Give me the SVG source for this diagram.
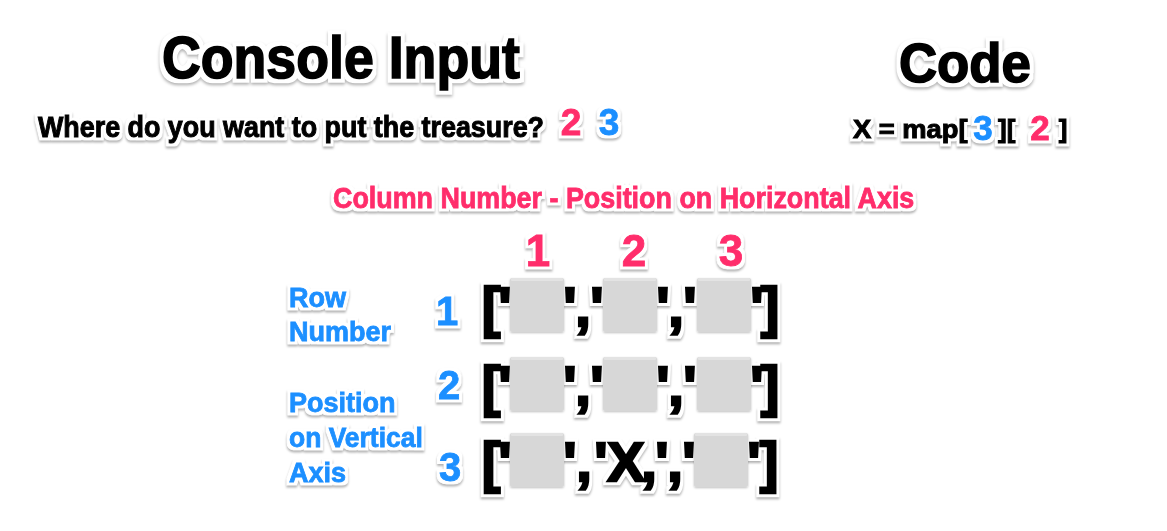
<svg xmlns="http://www.w3.org/2000/svg" width="1167" height="531" viewBox="0 0 1167 531">
  <style>
    text { font-family: "Liberation Sans", Arial, sans-serif; font-weight: bold; }
    .k { fill: #000; stroke: #000; stroke-width: 1; }
    .p { fill: #FF2D6B; stroke: #FF2D6B; stroke-width: 0.8; }
    .b { fill: #1C8FFF; stroke: #1C8FFF; stroke-width: 0.8; }
    .big { stroke-width: 1.6; }
    .br { stroke-width: 2.4; font-size: 56px; }
    .m { text-anchor: middle; }
    .box { fill: #D7D7D7; }
    .boxtop { fill: #E3E3E3; }
  </style>
  <defs>
    <filter id="st" filterUnits="userSpaceOnUse" x="0" y="0" width="1167" height="531" color-interpolation-filters="sRGB">
      <feMorphology in="SourceAlpha" operator="dilate" radius="3" result="o"/>
      <feFlood flood-color="#ffffff" result="w"/>
      <feComposite in="w" in2="o" operator="in" result="outline"/>
      <feGaussianBlur in="o" stdDeviation="1.2" result="bl"/>
      <feOffset in="bl" dx="0" dy="1.5" result="ob"/>
      <feFlood flood-color="#000" flood-opacity="0.3"/>
      <feComposite in2="ob" operator="in" result="shadow"/>
      <feMerge><feMergeNode in="shadow"/><feMergeNode in="outline"/><feMergeNode in="SourceGraphic"/></feMerge>
    </filter>
    <filter id="stbig" filterUnits="userSpaceOnUse" x="0" y="0" width="1167" height="531" color-interpolation-filters="sRGB">
      <feMorphology in="SourceAlpha" operator="dilate" radius="4" result="o"/>
      <feFlood flood-color="#ffffff" result="w"/>
      <feComposite in="w" in2="o" operator="in" result="outline"/>
      <feGaussianBlur in="o" stdDeviation="1.5" result="bl"/>
      <feOffset in="bl" dx="0" dy="2" result="ob"/>
      <feFlood flood-color="#000" flood-opacity="0.3"/>
      <feComposite in2="ob" operator="in" result="shadow"/>
      <feMerge><feMergeNode in="shadow"/><feMergeNode in="outline"/><feMergeNode in="SourceGraphic"/></feMerge>
    </filter>
    <filter id="bs" x="-20%" y="-20%" width="140%" height="140%">
      <feDropShadow dx="0" dy="1" stdDeviation="1" flood-color="#000" flood-opacity="0.25"/>
    </filter>
    <g id="cell">
      <rect class="box" x="0" y="0" width="54" height="54" rx="2"/>
      <rect class="boxtop" x="1" y="0" width="52" height="3" rx="1"/>
    </g>
  </defs>
  <rect width="1167" height="531" fill="#fff"/>

  <g id="title-console" filter="url(#stbig)">
    <text class="k big" transform="translate(162,78) scale(0.895,1)" font-size="60">Console Input</text>
  </g>
  <g id="title-code" filter="url(#stbig)">
    <text class="k big" transform="translate(899,82) scale(0.943,1)" font-size="56">Code</text>
  </g>

  <g id="prompt" filter="url(#st)">
    <text class="k" transform="translate(38,137) scale(0.896,1)" font-size="30">Where do you want to put the treasure?</text>
    <text class="p m" x="571" y="135" font-size="37">2</text>
    <text class="b m" x="609" y="135" font-size="37">3</text>
  </g>

  <g id="code-line" filter="url(#st)">
    <text class="k" transform="translate(853,138) scale(1.05,1)" font-size="26">X = map[</text>
    <text class="b m" x="983" y="140" font-size="35">3</text>
    <text class="k" x="998" y="138" font-size="26">][</text>
    <text class="p m" x="1040" y="140" font-size="35">2</text>
    <text class="k m" x="1063" y="138" font-size="26">]</text>
  </g>

  <g id="column-header" filter="url(#st)">
    <text class="p" transform="translate(333,208) scale(0.927,1)" font-size="29">Column Number - Position on Horizontal Axis</text>
  </g>

  <g id="column-numbers" filter="url(#st)">
    <text class="p m" x="538" y="266" font-size="44">1</text>
    <text class="p m" x="634" y="266" font-size="44">2</text>
    <text class="p m" x="731" y="266" font-size="44">3</text>
  </g>

  <g id="row-label" filter="url(#st)">
    <text class="b" x="289" y="307" font-size="27">Row</text>
    <text class="b" x="289" y="341" font-size="27">Number</text>
    <text class="b" x="289" y="412" font-size="27">Position</text>
    <text class="b" transform="translate(289,447) scale(0.98,1)" font-size="27">on Vertical</text>
    <text class="b" x="289" y="482" font-size="27">Axis</text>
  </g>

  <g id="row-numbers" filter="url(#st)">
    <text class="b m" x="447" y="325" font-size="40">1</text>
    <text class="b m" x="449" y="399" font-size="40">2</text>
    <text class="b m" x="450" y="481" font-size="40">3</text>
  </g>

  <g id="row1">
    <g filter="url(#st)">
      <text class="k m br" y="326" x="491 505 570 583 597 663 676 690 757 770">['','','']</text>
    </g>
    <g filter="url(#bs)">
      <use href="#cell" x="510" y="278"/>
      <use href="#cell" x="603" y="278"/>
      <use href="#cell" x="697" y="278"/>
    </g>
  </g>

  <g id="row2">
    <g filter="url(#st)">
      <text class="k m br" y="405" x="491 505 570 583 597 663 676 690 757 770">['','','']</text>
    </g>
    <g filter="url(#bs)">
      <use href="#cell" x="510" y="357"/>
      <use href="#cell" x="603" y="357"/>
      <use href="#cell" x="697" y="357"/>
    </g>
  </g>

  <g id="row3">
    <g filter="url(#st)">
      <text class="k m br" y="481" x="491 505 570 584 601 626 649 662 675 689 754 769">['','X,','']</text>
    </g>
    <g filter="url(#bs)">
      <use href="#cell" x="510" y="433"/>
      <use href="#cell" x="694" y="433"/>
    </g>
  </g>
</svg>
